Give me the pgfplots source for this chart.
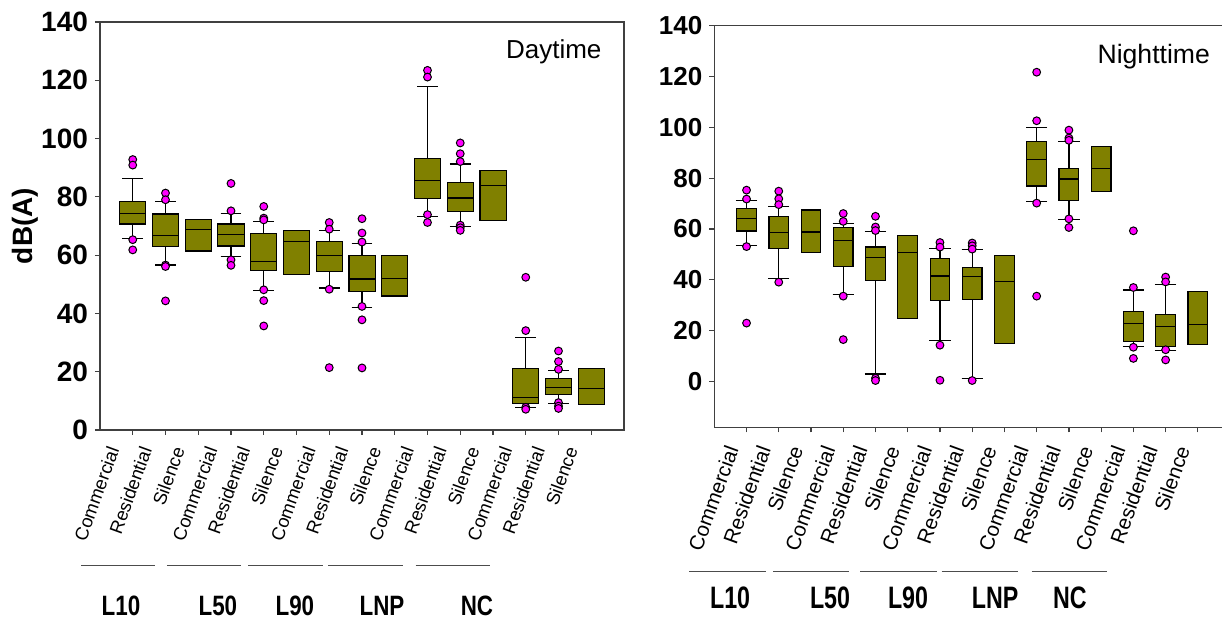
\documentclass[border=0pt]{standalone}
\usepackage{pgfplots}
\pgfplotsset{compat=1.18}
\usepgfplotslibrary{statistics}
\usepackage{graphicx}
\usepackage{fontspec}
\setmainfont{Liberation Sans}
\definecolor{boxolive}{RGB}{128,128,0}
\definecolor{outl}{RGB}{255,0,255}

\pgfplotsset{
  bx/.style={draw=black, fill=boxolive, line width=0.6pt, mark=*, mark size=1.95pt,
    mark options={fill=outl, draw=black, line width=0.5pt, solid}},
  panel/.style={scale only axis, anchor=south west, clip=false,
    xmin=0, xmax=16, xtick={1,...,15},
    xticklabels={Commercial,Residential,Silence,Commercial,Residential,Silence,
      Commercial,Residential,Silence,Commercial,Residential,Silence,
      Commercial,Residential,Silence},
    ytick={0,20,...,140}, tick pos=left, tick align=outside, major tick length=2.5pt,
    axis line style={black!75, line width=0.7pt}, tick style={black!75, line width=0.6pt},
    /pgfplots/boxplot/draw direction=y,
    /pgf/number format/assume math mode=true},
}
\tikzset{grp/.style={draw=black!70, line width=0.7pt},
  gl/.style={font=\fontsize{14}{14}\selectfont\bfseries, inner sep=0pt},
  gr/.style={font=\fontsize{15.5}{15.5}\selectfont\bfseries, inner sep=0pt}}

\begin{document}
\begin{tikzpicture}[x=1pt,y=1pt]

% ---------- daytime ----------
\begin{axis}[panel, at={(50pt,94.5pt)}, width=262pt, height=204pt,
  ymin=0, ymax=140,
  /pgfplots/boxplot/box extend=0.8, /pgfplots/boxplot/whisker extend=0.63,
  yticklabel style={font=\fontsize{14}{14}\selectfont\bfseries},
  xticklabel style={xshift=-8.5pt, yshift=-3pt, rotate=70, anchor=east, font=\fontsize{9.2}{9.2}\selectfont},
  ylabel={dB(A)},
  every axis y label/.style={at={(axis description cs:-0.143,0.5)}, rotate=90, anchor=center,
    font=\fontsize{14}{14}\selectfont\bfseries}]
\addplot[bx, boxplot prepared={draw position=1, lower whisker=65.7, lower quartile=70.7, median=74.4, upper quartile=78.3, upper whisker=86.2}] coordinates {(1,92.8)(1,90.9)(1,65.3)(1,61.8)};
\addplot[bx, boxplot prepared={draw position=2, lower whisker=56.6, lower quartile=63.0, median=66.6, upper quartile=74.1, upper whisker=78.3}] coordinates {(2,81.3)(2,79.0)(2,56.6)(2,56.1)(2,44.3)};
\addplot[bx, boxplot prepared={draw position=3, lower whisker=61.4, lower quartile=61.4, median=68.7, upper quartile=72.3, upper whisker=72.3, whisker extend=0}] coordinates {};
\addplot[bx, boxplot prepared={draw position=4, lower whisker=59.4, lower quartile=63.1, median=67.1, upper quartile=70.7, upper whisker=74.2}] coordinates {(4,84.6)(4,75.2)(4,58.4)(4,56.5)};
\addplot[bx, boxplot prepared={draw position=5, lower whisker=48.0, lower quartile=54.8, median=57.8, upper quartile=67.3, upper whisker=71.6}] coordinates {(5,76.7)(5,72.7)(5,72.1)(5,48.1)(5,44.4)(5,35.7)};
\addplot[bx, boxplot prepared={draw position=6, lower whisker=53.4, lower quartile=53.4, median=64.7, upper quartile=68.4, upper whisker=68.4, whisker extend=0}] coordinates {};
\addplot[bx, boxplot prepared={draw position=7, lower whisker=48.7, lower quartile=54.4, median=59.9, upper quartile=64.7, upper whisker=68.5}] coordinates {(7,71.2)(7,68.9)(7,48.3)(7,21.4)};
\addplot[bx, boxplot prepared={draw position=8, lower whisker=42.0, lower quartile=47.6, median=51.8, upper quartile=60.0, upper whisker=63.9}] coordinates {(8,72.5)(8,67.6)(8,64.5)(8,42.4)(8,37.8)(8,21.3)};
\addplot[bx, boxplot prepared={draw position=9, lower whisker=46.0, lower quartile=46.0, median=52.1, upper quartile=59.9, upper whisker=59.9, whisker extend=0}] coordinates {};
\addplot[bx, boxplot prepared={draw position=10, lower whisker=73.3, lower quartile=79.4, median=85.5, upper quartile=93.2, upper whisker=117.9}] coordinates {(10,123.4)(10,121.1)(10,73.9)(10,71.2)};
\addplot[bx, boxplot prepared={draw position=11, lower whisker=69.9, lower quartile=74.9, median=79.6, upper quartile=84.9, upper whisker=91.3}] coordinates {(11,98.5)(11,94.8)(11,92.1)(11,70.3)(11,69.4)(11,68.5)};
\addplot[bx, boxplot prepared={draw position=12, lower whisker=71.8, lower quartile=71.8, median=83.9, upper quartile=89.0, upper whisker=89.0, whisker extend=0}] coordinates {};
\addplot[bx, boxplot prepared={draw position=13, lower whisker=7.6, lower quartile=9.2, median=11.1, upper quartile=21.1, upper whisker=31.8}] coordinates {(13,52.4)(13,34.1)(13,7.8)(13,7.1)};
\addplot[bx, boxplot prepared={draw position=14, lower whisker=9.0, lower quartile=12.1, median=14.7, upper quartile=17.7, upper whisker=20.5}] coordinates {(14,27.1)(14,23.5)(14,20.8)(14,9.4)(14,8.2)(14,7.4)};
\addplot[bx, boxplot prepared={draw position=15, lower whisker=8.7, lower quartile=8.7, median=14.3, upper quartile=21.0, upper whisker=21.0, whisker extend=0}] coordinates {};
\node[font=\fontsize{13}{13}\selectfont] at (rel axis cs:0.866,0.927) {Daytime};
% group lines and names
\draw[grp] (axis cs:-0.58,-46.4) -- (axis cs:1.68,-46.4);
\draw[grp] (axis cs:2.04,-46.4) -- (axis cs:4.30,-46.4);
\draw[grp] (axis cs:4.53,-46.4) -- (axis cs:6.80,-46.4);
\draw[grp] (axis cs:6.97,-46.4) -- (axis cs:9.24,-46.4);
\draw[grp] (axis cs:9.64,-46.4) -- (axis cs:11.91,-46.4);
\node[gl] at (axis cs:0.64,-60.3) {\scalebox{0.8}[1]{L10}};
\node[gl] at (axis cs:3.60,-60.3) {\scalebox{0.8}[1]{L50}};
\node[gl] at (axis cs:5.95,-60.3) {\scalebox{0.8}[1]{L90}};
\node[gl] at (axis cs:8.61,-60.3) {\scalebox{0.8}[1]{LNP}};
\node[gl] at (axis cs:11.51,-60.3) {\scalebox{0.8}[1]{NC}};
\end{axis}

% ---------- nighttime ----------
\begin{axis}[panel, at={(357.15pt,95.85pt)}, width=257.9pt, height=200.8pt,
  ymin=-18, ymax=140,
  /pgfplots/boxplot/box extend=0.61, /pgfplots/boxplot/whisker extend=0.66,
  yticklabel style={font=\fontsize{13}{13}\selectfont\bfseries},
  xticklabel style={xshift=-6pt, yshift=-4pt, rotate=70, anchor=east, font=\fontsize{10.3}{10.3}\selectfont}]
\addplot[bx, boxplot prepared={draw position=1, lower whisker=53.4, lower quartile=59.2, median=64.3, upper quartile=68.1, upper whisker=71.3}] coordinates {(1,75.3)(1,71.8)(1,53.1)(1,23.0)};
\addplot[bx, boxplot prepared={draw position=2, lower whisker=40.6, lower quartile=52.2, median=58.7, upper quartile=64.8, upper whisker=68.8}] coordinates {(2,74.9)(2,71.9)(2,69.6)(2,39.1)};
\addplot[bx, boxplot prepared={draw position=3, lower whisker=50.7, lower quartile=50.7, median=58.8, upper quartile=67.5, upper whisker=67.5, whisker extend=0}] coordinates {};
\addplot[bx, boxplot prepared={draw position=4, lower whisker=34.3, lower quartile=45.4, median=55.6, upper quartile=60.6, upper whisker=62.1}] coordinates {(4,66.1)(4,63.0)(4,33.6)(4,16.5)};
\addplot[bx, boxplot prepared={draw position=5, lower whisker=3.0, lower quartile=39.8, median=48.7, upper quartile=52.9, upper whisker=58.9}] coordinates {(5,65.0)(5,60.8)(5,59.4)(5,1.3)(5,0.4)};
\addplot[bx, boxplot prepared={draw position=6, lower whisker=24.9, lower quartile=24.9, median=50.8, upper quartile=57.3, upper whisker=57.3, whisker extend=0}] coordinates {};
\addplot[bx, boxplot prepared={draw position=7, lower whisker=16.1, lower quartile=32.0, median=41.5, upper quartile=48.4, upper whisker=52.4}] coordinates {(7,54.7)(7,52.9)(7,14.3)(7,0.5)};
\addplot[bx, boxplot prepared={draw position=8, lower whisker=1.3, lower quartile=32.4, median=41.3, upper quartile=44.8, upper whisker=51.8}] coordinates {(8,54.5)(8,53.4)(8,52.1)(8,0.4)};
\addplot[bx, boxplot prepared={draw position=9, lower whisker=15.1, lower quartile=15.1, median=39.2, upper quartile=49.6, upper whisker=49.6, whisker extend=0}] coordinates {};
\addplot[bx, boxplot prepared={draw position=10, lower whisker=70.9, lower quartile=76.9, median=87.4, upper quartile=94.5, upper whisker=99.9}] coordinates {(10,121.7)(10,102.6)(10,70.2)(10,33.6)};
\addplot[bx, boxplot prepared={draw position=11, lower whisker=63.6, lower quartile=71.1, median=79.7, upper quartile=83.9, upper whisker=94.5}] coordinates {(11,98.9)(11,95.8)(11,94.9)(11,64.0)(11,60.6)};
\addplot[bx, boxplot prepared={draw position=12, lower whisker=74.7, lower quartile=74.7, median=83.7, upper quartile=92.4, upper whisker=92.4, whisker extend=0}] coordinates {};
\addplot[bx, boxplot prepared={draw position=13, lower whisker=13.8, lower quartile=15.9, median=22.7, upper quartile=27.7, upper whisker=36.0}] coordinates {(13,59.3)(13,37.0)(13,13.5)(13,9.1)};
\addplot[bx, boxplot prepared={draw position=14, lower whisker=12.1, lower quartile=13.8, median=21.7, upper quartile=26.4, upper whisker=38.1}] coordinates {(14,41.1)(14,39.2)(14,12.5)(14,8.5)};
\addplot[bx, boxplot prepared={draw position=15, lower whisker=14.6, lower quartile=14.6, median=22.3, upper quartile=35.4, upper whisker=35.4, whisker extend=0}] coordinates {};
\node[font=\fontsize{13.3}{13.3}\selectfont] at (rel axis cs:0.852,0.923) {Nighttime};
\draw[grp] (axis cs:-0.78,-74.8) -- (axis cs:1.59,-74.8);
\draw[grp] (axis cs:1.83,-74.8) -- (axis cs:4.19,-74.8);
\draw[grp] (axis cs:4.52,-74.8) -- (axis cs:6.90,-74.8);
\draw[grp] (axis cs:7.05,-74.8) -- (axis cs:9.41,-74.8);
\draw[grp] (axis cs:9.84,-74.8) -- (axis cs:12.19,-74.8);
\node[gr] at (axis cs:0.49,-85.2) {\scalebox{0.75}[1]{L10}};
\node[gr] at (axis cs:3.59,-85.2) {\scalebox{0.75}[1]{L50}};
\node[gr] at (axis cs:6.01,-85.2) {\scalebox{0.75}[1]{L90}};
\node[gr] at (axis cs:8.71,-85.2) {\scalebox{0.75}[1]{LNP}};
\node[gr] at (axis cs:11.03,-85.2) {\scalebox{0.75}[1]{NC}};
\end{axis}

\pgfresetboundingbox
\path[use as bounding box] (0,0) rectangle (611pt,309.5pt);
\end{tikzpicture}
\end{document}
